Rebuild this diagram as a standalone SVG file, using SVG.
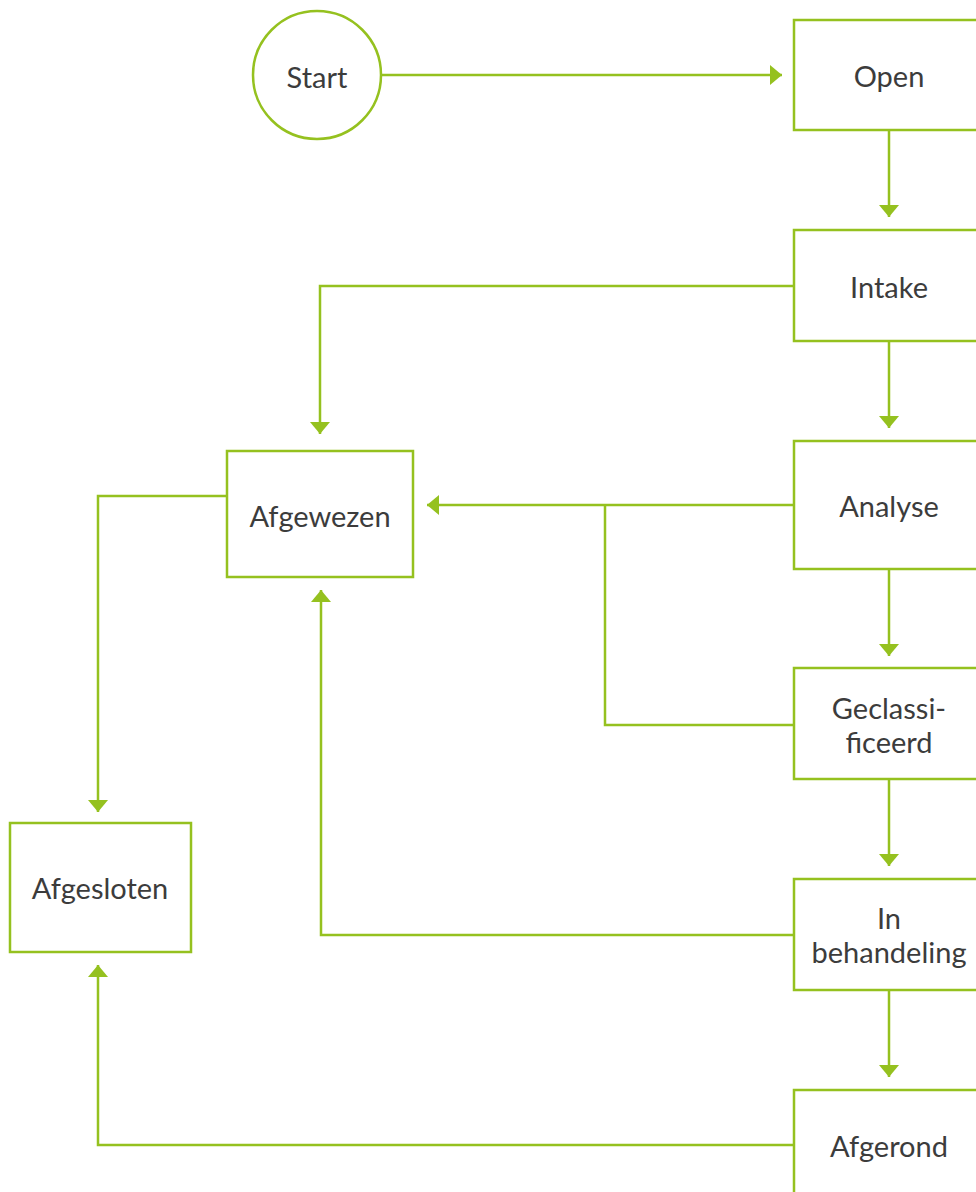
<svg xmlns="http://www.w3.org/2000/svg" width="976" height="1192" viewBox="0 0 976 1192">
<style>
.n{fill:#fff;stroke:#95c11f;stroke-width:2.5}
.t{font-family:Lato,"Liberation Sans",sans-serif;font-size:29px;fill:#3c3c3c;text-anchor:middle;dominant-baseline:central}
.c{fill:none;stroke:#95c11f;stroke-width:2.5}
</style>
<defs>
<marker id="a" markerUnits="userSpaceOnUse" markerWidth="14" markerHeight="20" refX="12" refY="10" orient="auto">
<polygon points="0,0 12,10 0,20" fill="#95c11f"/>
</marker>
</defs>
<rect width="976" height="1192" fill="#fff"/>
<g id="connectors">
<path class="c" d="M381,75 H782" marker-end="url(#a)"/>
<path class="c" d="M889,130 V217" marker-end="url(#a)"/>
<path class="c" d="M889,341 V428" marker-end="url(#a)"/>
<path class="c" d="M889,569 V656" marker-end="url(#a)"/>
<path class="c" d="M889,779 V866" marker-end="url(#a)"/>
<path class="c" d="M889,990 V1077" marker-end="url(#a)"/>
<path class="c" d="M794,286 H320 V434" marker-end="url(#a)"/>
<path class="c" d="M794,505 H427" marker-end="url(#a)"/>
<path class="c" d="M794,725 H605 V505"/>
<path class="c" d="M794,935 H321 V590" marker-end="url(#a)"/>
<path class="c" d="M227,496 H98 V812" marker-end="url(#a)"/>
<path class="c" d="M794,1145 H98 V965" marker-end="url(#a)"/>
</g>
<g id="start"><circle class="n" cx="317" cy="75" r="64"/><text class="t" x="317" y="76">Start</text></g>
<g id="open"><rect class="n" x="794" y="20" width="192" height="110"/><text class="t" x="889" y="75">Open</text></g>
<g id="intake"><rect class="n" x="794" y="230" width="192" height="111"/><text class="t" x="889" y="286">Intake</text></g>
<g id="analyse"><rect class="n" x="794" y="441" width="192" height="128"/><text class="t" x="889" y="505">Analyse</text></g>
<g id="geclassificeerd"><rect class="n" x="794" y="668" width="192" height="111"/><text class="t" x="889" y="707">Geclassi-</text><text class="t" x="889" y="741">ficeerd</text></g>
<g id="inbehandeling"><rect class="n" x="794" y="879" width="192" height="111"/><text class="t" x="889" y="917">In</text><text class="t" x="889" y="951">behandeling</text></g>
<g id="afgerond"><rect class="n" x="794" y="1090" width="192" height="120"/><text class="t" x="889" y="1145">Afgerond</text></g>
<g id="afgewezen"><rect class="n" x="227" y="451" width="186" height="126"/><text class="t" x="320" y="515">Afgewezen</text></g>
<g id="afgesloten"><rect class="n" x="10" y="823" width="181" height="129"/><text class="t" x="100" y="887">Afgesloten</text></g>
</svg>
